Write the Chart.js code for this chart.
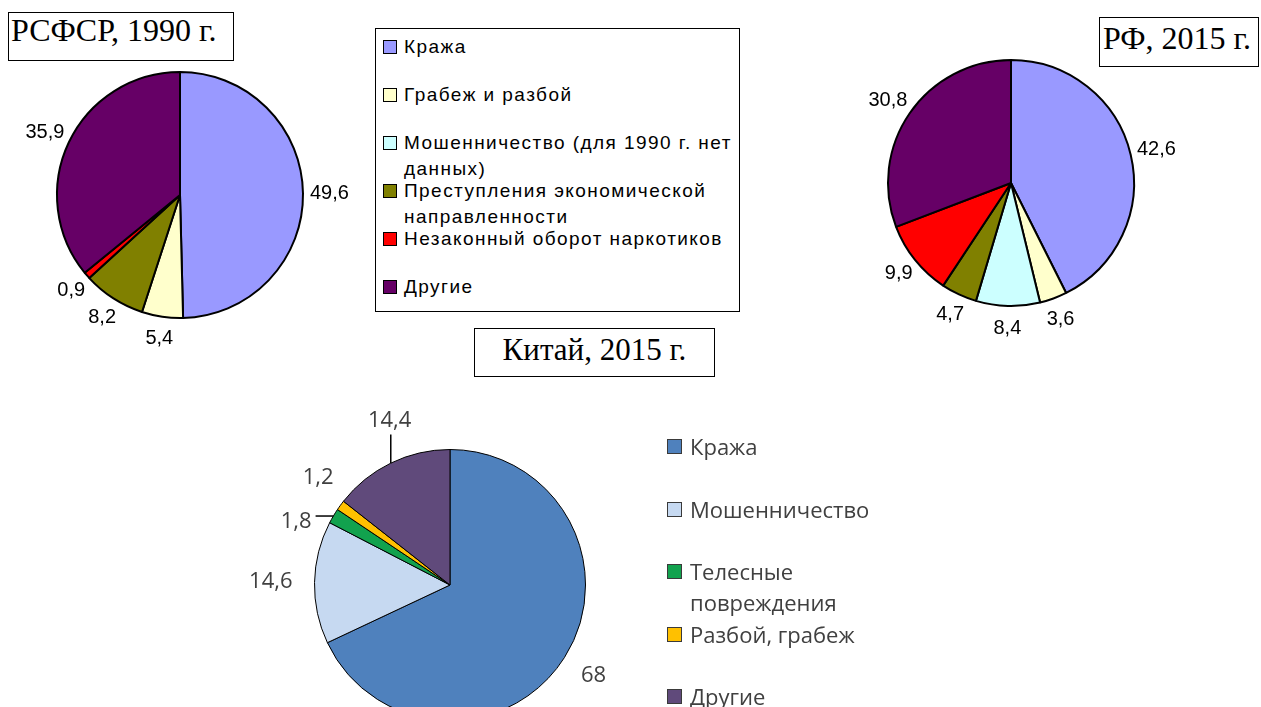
<!DOCTYPE html>
<html>
<head>
<meta charset="utf-8">
<script src="https://cdn.jsdelivr.net/npm/chart.js@4.4.1/dist/chart.umd.min.js"></script>
<style>
  html, body { margin: 0; padding: 0; width: 1261px; height: 707px; overflow: hidden; background: #fff; }
  .box { position: absolute; }
  canvas { display: block; }
  .title { position: absolute; z-index: 3; box-sizing: border-box; border: 1.5px solid #000; background: #fff;
           font-family: "Liberation Serif", "Times New Roman", serif; font-size: 32px; line-height: 32px; color: #000; white-space: nowrap; }
  .legend { position: absolute; z-index: 2; box-sizing: border-box; }
  .legend .item { position: absolute; }
  .legend .sq { position: absolute; box-sizing: border-box; border: 1px solid #000; }
  .legend .txt { position: absolute; }
  #legRu { left: 375px; top: 28px; width: 365px; height: 284px; border: 1.5px solid #000; background: #fff;
           font-family: "Liberation Sans", Arial, sans-serif; font-size: 19px; color: #000; }
  #legCn { left: 660px; top: 425px; width: 260px; height: 290px;
           font-family: "Open Sans", sans-serif; font-size: 22px; color: #404040; }
</style>
</head>
<body>

<div class="title" style="left:8px;top:12px;width:226px;height:49px;padding:1px 0 0 2px;">РСФСР, 1990 г.</div>
<div class="title" style="left:1099px;top:17px;width:160px;height:50px;padding:4px 0 0 3px;">РФ, 2015 г.</div>
<div class="title" style="left:474px;top:328px;width:241px;height:49px;padding:5px 0 0 0;text-align:center;font-size:31px;">Китай, 2015 г.</div>

<div class="box" style="left:10px;top:25px;"><canvas id="ru1990" width="340" height="340"></canvas></div>
<div class="box" style="left:841px;top:13px;"><canvas id="ru2015" width="340" height="340"></canvas></div>
<div class="box" style="left:214px;top:349px;"><canvas id="cn2015" width="472" height="472"></canvas></div>

<div class="legend" id="legRu"></div>
<div class="legend" id="legCn"></div>

<script>
// categories and values
var ruLabels = ["Кража", "Грабеж и разбой", "Мошенничество (для 1990 г. нет данных)",
    "Преступления экономической направленности", "Незаконный оборот наркотиков", "Другие"];
var ru1990 = [49.6, 5.4, 0, 8.2, 0.9, 35.9];
var ru2015 = [42.6, 3.6, 8.4, 4.7, 9.9, 30.8];
var ruColors = ["#9999FF", "#FFFFCC", "#CCFFFF", "#808000", "#FF0000", "#660066"];

var cnLabels = ["Кража", "Мошенничество", "Телесные повреждения", "Разбой, грабеж", "Другие"];
var cn2015 = [68, 14.6, 1.8, 1.2, 14.4];
var cnColors = ["#4F81BD", "#C6D9F1", "#12A24E", "#FFC000", "#604A7B"];

// value labels outside the slices (optional nudges and leader lines)
var outsideLabels = {
    id: "outsideLabels",
    afterDatasetsDraw: function (chart, args, opts) {
        var ctx = chart.ctx;
        var meta = chart.getDatasetMeta(0);
        var values = chart.data.datasets[0].data;
        var nudge = opts.nudge || [];
        var leader = opts.leader || [];
        ctx.save();
        ctx.font = opts.font;
        ctx.textAlign = "center";
        ctx.textBaseline = "middle";
        meta.data.forEach(function (arc, i) {
            if (!values[i]) return;
            var p = arc.getProps(["x", "y", "startAngle", "endAngle", "outerRadius"], true);
            var mid = (p.startAngle + p.endAngle) / 2;
            var c = Math.cos(mid), s = Math.sin(mid);
            var text = String(values[i]).replace(".", ",");
            var w = ctx.measureText(text).width;
            var h = opts.height;
            var r = p.outerRadius + opts.gap;
            var n = nudge[i] || [0, 0];
            var x = p.x + c * r + c * w / 2 + n[0];
            var y = p.y + s * r + s * h / 2 + n[1];
            if (leader[i]) {
                var ex = p.x + c * p.outerRadius, ey = p.y + s * p.outerRadius;
                var lx = Math.min(Math.max(ex, x - w / 2 - 4), x + w / 2 + 4);
                var ly = Math.min(Math.max(ey, y - 11 - 3), y + 11 + 3);
                ctx.strokeStyle = "#000";
                ctx.lineWidth = 1.5;
                ctx.beginPath();
                ctx.moveTo(ex, ey);
                ctx.lineTo(lx, ly);
                ctx.stroke();
            }
            ctx.fillStyle = opts.color;
            ctx.fillText(text, x, y);
        });
        ctx.restore();
    }
};

function makePie(id, labels, values, colors, border, labelOpts, pad) {
    return new Chart(document.getElementById(id).getContext("2d"), {
        type: "pie",
        data: {
            labels: labels,
            datasets: [{
                data: values,
                backgroundColor: colors,
                borderColor: "#000",
                borderWidth: border,
            }],
        },
        options: {
            responsive: false,
            animation: false,
            layout: { padding: pad },
            plugins: {
                legend: { display: false },
                tooltip: { enabled: false },
                outsideLabels: labelOpts,
            },
        },
        plugins: [outsideLabels],
    });
}

var ruLabelOpts = { font: "20px 'Liberation Sans', Arial, sans-serif", color: "#000", gap: 7, height: 31 };
makePie("ru1990", ruLabels, ru1990, ruColors, 2, ruLabelOpts, 46);
makePie("ru2015", ruLabels, ru2015, ruColors, 2, ruLabelOpts, 46);
makePie("cn2015", cnLabels, cn2015, cnColors, 1, {
    font: "22px 'Open Sans', sans-serif", color: "#404040", gap: 22, height: 22,
    nudge: [null, null, [-5, 23], [8, -8], [18, -13]],
    leader: [false, false, true, false, true],
}, 100);

// html legends built from the same arrays
function buildLegend(el, labels, colors, cfg) {
    labels.forEach(function (label, i) {
        var item = document.createElement("div");
        item.className = "item";
        item.style.left = "0px";
        item.style.top = (cfg.top + i * cfg.step) + "px";
        var sq = document.createElement("div");
        sq.className = "sq";
        sq.style.left = cfg.sqLeft + "px";
        sq.style.top = (cfg.lineH - cfg.sq) / 2 + "px";
        sq.style.width = cfg.sq + "px";
        sq.style.height = cfg.sq + "px";
        sq.style.background = colors[i];
        sq.style.borderColor = cfg.sqBorder;
        var txt = document.createElement("div");
        txt.className = "txt";
        txt.style.left = cfg.txtLeft + "px";
        txt.style.top = "0px";
        txt.style.width = cfg.txtW + "px";
        txt.style.lineHeight = cfg.lineH + "px";
        txt.style.letterSpacing = cfg.ls || "0px";
        txt.textContent = label;
        item.appendChild(sq);
        item.appendChild(txt);
        el.appendChild(item);
    });
}

buildLegend(document.getElementById("legRu"), ruLabels, ruColors,
    { top: 5, step: 48, lineH: 26, sq: 14, sqLeft: 7, txtLeft: 28, txtW: 334, sqBorder: "#000", ls: "1.45px" });
buildLegend(document.getElementById("legCn"), cnLabels, cnColors,
    { top: 6, step: 62.5, lineH: 31, sq: 15, sqLeft: 7, txtLeft: 30, txtW: 205, sqBorder: "#3a3a3a" });
</script>
</body>
</html>
